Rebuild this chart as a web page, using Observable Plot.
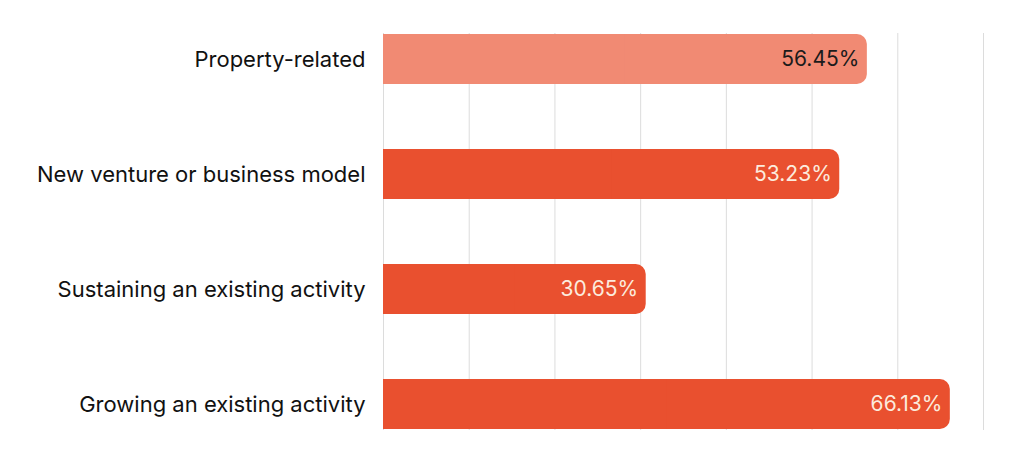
<!DOCTYPE html>
<html>
<head>
<meta charset="utf-8">
<script src="https://cdn.jsdelivr.net/npm/d3@7"></script>
<script src="https://cdn.jsdelivr.net/npm/@observablehq/plot@0.6"></script>
<style>
  html, body { margin: 0; padding: 0; background: #fff; }
  #chart svg { display: block; }
</style>
</head>
<body>
<div id="chart"></div>
<script>
const categories = ["Property-related", "New venture or business model", "Sustaining an existing activity", "Growing an existing activity"];
const values = [56.45, 53.23, 30.65, 66.13];
const highlight = [true, false, false, false];
const gridTicks = [0, 10, 20, 30, 40, 50, 60, 70];

const data = categories.map((c, i) => ({category: c, value: values[i], light: highlight[i]}));
const fillOf = d => d.light ? "#F18A73" : "#E9502F";

const chart = Plot.plot({
  width: 1024,
  height: 462,
  marginTop: 33,
  marginBottom: 32,
  marginLeft: 383,
  marginRight: 41,
  style: {fontFamily: "Inter, 'Noto Sans', sans-serif", background: "#fff"},
  x: {domain: [0, 70], axis: null},
  y: {domain: categories, paddingInner: 0.568, paddingOuter: 0, label: null},
  marks: [
    Plot.gridX(gridTicks, {stroke: "#dcdcdc", strokeOpacity: 1, strokeWidth: 1}),
    Plot.barX(data, {y: "category", x1: 0, x2: "value", fill: fillOf, rx: 10}),
    Plot.barX(data, {y: "category", x1: 0, x2: d => d.value / 2, fill: fillOf}),
    Plot.text(data, {
      y: "category", x: "value", text: d => d.value.toFixed(2) + "%",
      textAnchor: "end", dx: -8, fontSize: 21, letterSpacing: "-0.3px",
      fill: d => d.light ? "#1b1b1b" : "#FCEBDD"
    }),
    Plot.axisY({tickSize: 0, tickPadding: 18, fontSize: 22, fill: "#111", label: null})
  ]
});
document.getElementById("chart").appendChild(chart);
</script>
</body>
</html>
